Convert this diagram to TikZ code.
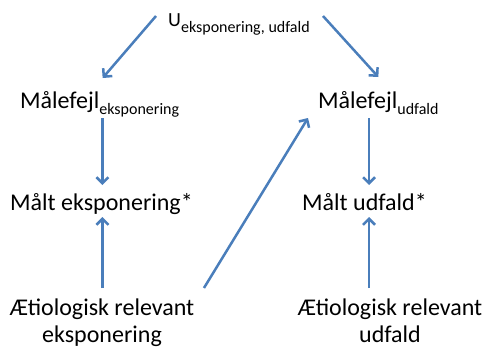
\documentclass[tikz,border=0pt]{standalone}
\usepackage{fontspec}
\setmainfont{Carlito}
\usetikzlibrary{calc}
\usetikzlibrary{arrows.meta}
\definecolor{arrowblue}{HTML}{4A7EBB}
\newcommand\subtxt[1]{\raisebox{-6pt}{\fontsize{16}{16}\selectfont #1}}

\begin{document}
\begin{tikzpicture} [x=1pt, y=-1pt,
  lbl/.style={inner sep=0, font=\fontsize{24}{27}\selectfont},
  arr/.style={arrowblue, line width=2.5pt, -{Straight Barb[length=6pt,width=12pt]}}]
\useasboundingbox (0,0) rectangle (487,351);

\node[lbl, anchor=base west] (u) at (168,26) {{\fontsize{20}{20}\selectfont U}\subtxt{eksponering, udfald}};
\node[lbl, anchor=base west] (mfe) at (20,108) {Målefejl\subtxt{eksponering}};
\node[lbl, anchor=base west] (mfu) at (318,108) {Målefejl\subtxt{udfald}};
\node[lbl, anchor=base west] (me) at (10,210) {Målt eksponering*};
\node[lbl, anchor=base west] (mu) at (302,210) {Målt udfald*};
\node[lbl, anchor=north, align=center] (ae) at (102,299) {Ætiologisk relevant\\eksponering};
\node[lbl, anchor=north, align=center] (au) at (390,299) {Ætiologisk relevant\\udfald};

\draw[arr] ($(u.base west)+(-12,-10)$) -- ($(mfe.base)+(3,-30)$);
\draw[arr] ($(u.base west)+(155,-10)$) -- ($(mfu.base)+(0,-31)$);
\draw[arr] ($(mfe.base -| me.base)+(1,10)$) -- ($(me.base)+(1,-25)$);
\draw[arr] ($(mfu.base -| mu.base)+(4.5,10)$) -- ($(mu.base)+(4.5,-25)$);
\draw[arr] ($(ae.north -| me.base)+(1,-11)$) -- ($(me.base)+(1,7)$);
\draw[arr] ($(au.north -| mu.base)+(4.5,-11)$) -- ($(mu.base)+(4.5,7)$);
\draw[arr] ($(ae.north east)+(9.5,-11)$) -- ($(mfu.base west)+(-10,10)$);

\end{tikzpicture}
\end{document}
